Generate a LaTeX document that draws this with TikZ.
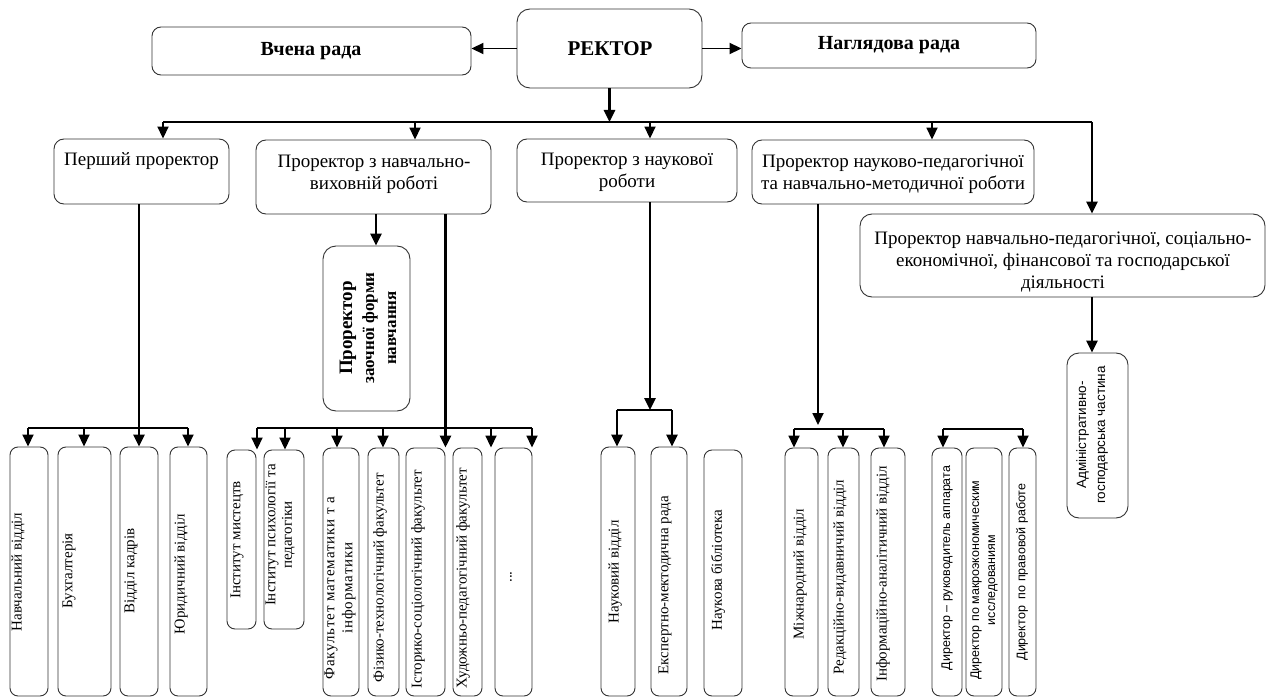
\documentclass[tikz,border=0pt]{standalone}
\usepackage{fontspec}
\setmainfont{Liberation Serif}
\newfontfamily\sansf{Liberation Sans}
\usetikzlibrary{arrows.meta,fit}
\begin{document}
\begin{tikzpicture}[x=1pt,y=-1pt,
  box/.style={draw=black!80, line width=0.9pt, rounded corners=#1, inner sep=0pt},
  box/.default=8pt,
  arr/.style={-{Triangle[length=12pt,width=11pt]}, line width=1.8pt},
  arrT/.style={-{Triangle[length=12pt,width=11pt]}, line width=2.6pt},
  bus/.style={line width=1.4pt},
  busT/.style={line width=2.6pt},
  toptxt/.style={font=\bfseries\fontsize{20}{24}\selectfont, inner sep=0pt},
  rowtxt/.style={font=\fontsize{19}{22}\selectfont, align=center, inner sep=0pt},
  vtxt/.style={font=\fontsize{15}{16.5}\selectfont, align=center, rotate=90, inner sep=0pt},
  vsans/.style={font=\sansf\fontsize{12.5}{16}\selectfont, align=center, rotate=90, inner sep=0pt},
]
\fill[white] (0,0) rectangle (1272,698);
\useasboundingbox (0,0) rectangle (1272,698);

% ---------- rector and councils ----------
\node[box=13pt, fit={(517,9)(702,88)}] (rector) {};
\node[box=9pt, fit={(152,27)(471,75)}] (vchena) {};
\node[box=9pt, fit={(742,23)(1036,68)}] (nagl) {};
\node[toptxt, font=\bfseries\fontsize{21}{24}\selectfont] (rectorT) at (610,49) {РЕКТОР};
\node[toptxt] (vchenaT) at (311,51) {Вчена рада};
\node[toptxt] (naglT) at (889,45) {Наглядова рада};

% ---------- vice-rectors ----------
\node[box=10pt, fit={(54,139)(229,204)}] (p1) {};
\node[box=10pt, fit={(256,140)(491,214)}] (p2) {};
\node[box=10pt, fit={(517,139)(737,202)}] (p3) {};
\node[box=10pt, fit={(752,140)(1034,204)}] (p4) {};
\node[box=12pt, fit={(860,214)(1265,297)}] (p5) {};
\node[rowtxt] (p1T) at (141.5,161) {Перший проректор};
\node[rowtxt] (p2T) at (374,174) {Проректор з навчально-\\виховній роботі};
\node[rowtxt] (p3T) at (627,172) {Проректор з наукової\\роботи};
\node[rowtxt] (p4T) at (893,174) {Проректор науково-педагогічної\\та навчально-методичної роботи};
\node[rowtxt] (p5T) at (1063,262) {Проректор навчально-педагогічної, соціально-\\економічної, фінансової та господарської\\діяльності};

\node[box=13pt, fit={(323,246)(410,411)}] (z) {};
\node[vtxt, font=\bfseries\fontsize{17}{22}\selectfont] (zT) at (368,328)
  {{\fontsize{19}{22}\selectfont Проректор}\\заочної форми\\навчання};

% ---------- departments ----------
\node[box, fit={(10,447)(48,696)}] (b1) {};
\node[box, fit={(58,447)(111,696)}] (b2) {};
\node[box, fit={(120,447)(158,696)}] (b3) {};
\node[box, fit={(170,447)(207,696)}] (b4) {};
\node[vtxt] (b1T) at (18,572) {Навчальний відділ};
\node[vtxt] (b2T) at (69,571) {Бухгалтерія};
\node[vtxt] (b3T) at (131,571) {Відділ кадрів};
\node[vtxt] (b4T) at (181,574) {Юридичний відділ};

\node[box, fit={(227,450)(256,629)}] (c1) {};
\node[box, fit={(264,450)(304,629)}] (c2) {};
\node[box, fit={(323,448)(359,696)}] (c3) {};
\node[box, fit={(368,448)(399,696)}] (c4) {};
\node[box, fit={(406,448)(445,696)}] (c5) {};
\node[box, fit={(453,448)(482,696)}] (c6) {};
\node[box, fit={(495,448)(532,696)}] (c7) {};
\node[vtxt] (c1T) at (237,540) {Інститут мистецтв};
\node[vtxt] (c2T) at (280,535) {Інститут психології та\\педагогіки};
\node[vtxt, font=\fontsize{15}{18}\selectfont] (c3T) at (340,588)
  {\addfontfeature{LetterSpace=6}Факультет математики т а\\\addfontfeature{LetterSpace=6}інформатики};
\node[vtxt] (c4T) at (380,578) {Фізико-технологічний факультет};
\node[vtxt] (c5T) at (418,579) {Історико-соціологічний факультет};
\node[vtxt] (c6T) at (463,578) {Художньо-педагогічний факультет};
\node[vtxt] (c7T) at (511,577) {...};

\node[box, fit={(601,447)(635,696)}] (d1) {};
\node[box, fit={(651,447)(687,696)}] (d2) {};
\node[box, fit={(704,450)(742,696)}] (d3) {};
\node[vtxt] (d1T) at (615,572) {Науковий відділ};
\node[vtxt] (d2T) at (665,585) {Експертно-мектодична рада};
\node[vtxt] (d3T) at (718,570) {Наукова бібліотека};

\node[box, fit={(785,448)(818,696)}] (e1) {};
\node[box, fit={(828,448)(859,696)}] (e2) {};
\node[box, fit={(871,448)(905,696)}] (e3) {};
\node[vtxt] (e1T) at (800,574) {Міжнародний відділ};
\node[vtxt] (e2T) at (840,577) {Редакційно-видавничий відділ};
\node[vtxt] (e3T) at (883,574) {Інформаційно-аналітичний відділ};

\node[box, fit={(932,448)(962,696)}] (f1) {};
\node[box, fit={(966,448)(1002,696)}] (f2) {};
\node[box, fit={(1009,448)(1036,696)}] (f3) {};
\node[vsans] (f1T) at (947,568) {Директор – руководитель аппарата};
\node[vsans] (f2T) at (984,580) {Директор по макроэкономическим\\исследованиям};
\node[vsans] (f3T) at (1022,572) {Директор\ \ по правовой работе};

\node[box=12pt, fit={(1067,353)(1128,518)}] (g1) {};
\node[vsans, font=\sansf\fontsize{13.5}{19}\selectfont] (g1T) at (1092,435) {Адміністративно-\\господарська частина};

% ---------- connectors: top ----------
\draw[arr] (rector.west) -- (rector.west -| vchena.east);
\draw[arr] (rector.east) -- (rector.east -| nagl.west);
\coordinate (busTL) at (163,122);
\coordinate (busTR) at (1092,122);
\draw[arrT] (rector.south) -- (rector.south |- busTL);
\draw[bus] (busTL) -- (busTR);
\draw[arr] (busTL) -- (busTL |- p1.north);
\foreach \x/\n in {415/p2,650/p3,932/p4}
  \draw[arr] (\x,0 |- busTL) -- (\x,0 |- \n.north);
\draw[arrT] (busTR) -- (busTR |- p5.north);

% ---------- first vice-rector ----------
\coordinate (bus1) at (28,428);
\draw[arrT] (b3.north |- p1.south) -- (b3.north);
\draw[bus] (bus1) -- (188,0 |- bus1);
\foreach \x/\n in {28/b1,84/b2,188/b4}
  \draw[arr] (\x,0 |- bus1) -- (\x,0 |- \n.north);

% ---------- educational vice-rector ----------
\coordinate (zin) at (376,0);
\draw[arrT] (zin |- p2.south) -- (zin |- z.north);
\coordinate (bus2) at (257,428);
\draw[arrT] (c5.north east |- p2.south) -- (c5.north east);
\draw[bus] (bus2) -- (532,0 |- bus2);
\foreach \x/\n in {257/c1,285/c2,337/c3,383/c4,491/c6,532/c7}
  \draw[arr] (\x,0 |- bus2) -- (\x,0 |- \n.north);

% ---------- research vice-rector ----------
\coordinate (bus3) at (650,410);
\draw[arrT] (bus3 |- p3.south) -- (bus3);
\draw[busT] (617,0 |- bus3) -- (672,0 |- bus3);
\foreach \x/\n in {617/d1,672/d2}
  \draw[arrT] (\x,0 |- bus3) -- (\x,0 |- \n.north);

% ---------- scientific-pedagogical vice-rector ----------
\coordinate (in4) at (818,425);
\coordinate (bus4) at (794,429);
\draw[arr] (in4 |- p4.south) -- (in4);
\draw[bus] (bus4) -- (884,0 |- bus4);
\foreach \x/\n in {794/e1,843/e2,884/e3}
  \draw[arr] (\x,0 |- bus4) -- (\x,0 |- \n.north);

% ---------- directors ----------
\coordinate (bus5) at (943,429);
\draw[bus] (bus5) -- (1023,0 |- bus5);
\foreach \x/\n in {943/f1,1023/f3}
  \draw[arr] (\x,0 |- bus5) -- (\x,0 |- \n.north);

% ---------- administrative part ----------
\draw[arrT] (busTR |- p5.south) -- (busTR |- g1.north);
\end{tikzpicture}
\end{document}
